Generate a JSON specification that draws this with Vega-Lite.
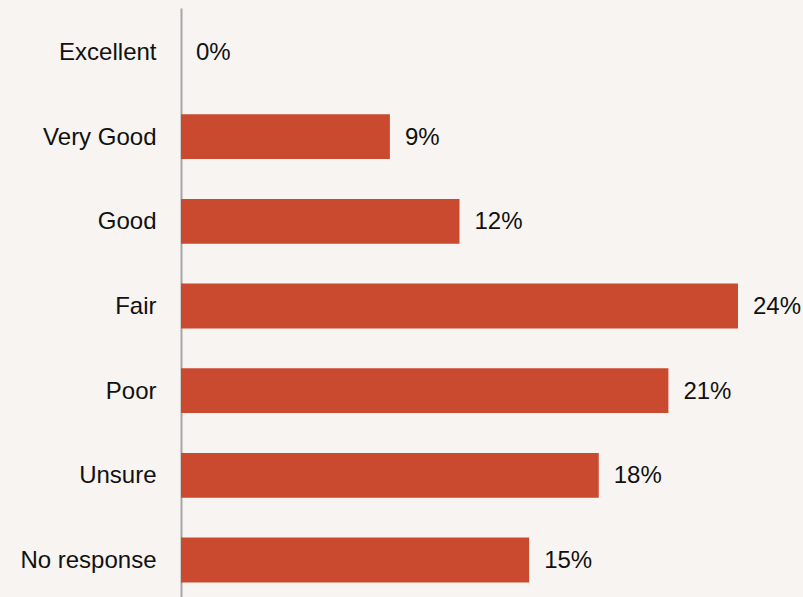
{
  "$schema": "https://vega.github.io/schema/vega-lite/v6.json",
  "autosize": {"type": "none"},
  "width": 557,
  "height": 596,
  "padding": {"left": 181, "top": 8, "right": 65, "bottom": 0},
  "background": "#f7f4f1",
  "config": {"view": {"stroke": null}, "font": "Liberation Sans"},
  "data": {
    "values": [
      {"rating": "Excellent", "pct": 0},
      {"rating": "Very Good", "pct": 0.09},
      {"rating": "Good", "pct": 0.12},
      {"rating": "Fair", "pct": 0.24},
      {"rating": "Poor", "pct": 0.21},
      {"rating": "Unsure", "pct": 0.18},
      {"rating": "No response", "pct": 0.15}
    ]
  },
  "encoding": {
    "y": {
      "field": "rating",
      "type": "nominal",
      "sort": null,
      "scale": {"paddingInner": 0.47, "paddingOuter": 0.255},
      "axis": {
        "title": null,
        "ticks": false,
        "labelPadding": 25,
        "labelFontSize": 24,
        "labelColor": "#111111",
        "labelFont": "Liberation Sans",
        "labelOffset": 1,
        "domainColor": "#a6a6a6",
        "domainWidth": 2
      }
    },
    "x": {
      "field": "pct",
      "type": "quantitative",
      "scale": {"domain": [0, 0.24], "nice": false},
      "axis": null
    }
  },
  "layer": [
    {"mark": {"type": "bar", "color": "#c94a2e"}},
    {
      "mark": {"type": "text", "align": "left", "dx": 15, "dy": 1, "fontSize": 24, "color": "#111111", "font": "Liberation Sans"},
      "encoding": {"text": {"field": "pct", "type": "quantitative", "format": ".0%"}}
    }
  ]
}
